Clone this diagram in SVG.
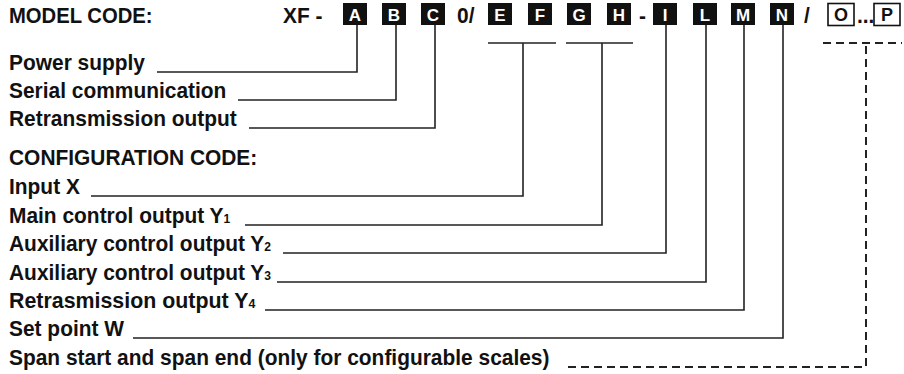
<svg xmlns="http://www.w3.org/2000/svg" width="904" height="374" viewBox="0 0 904 374">
<style>
text{font-family:"Liberation Sans",Arial,sans-serif;font-weight:bold;fill:#111}
.lbl{font-size:22.5px}
.sub{font-size:13px}
.bx{fill:#111}
.ob{fill:#fff;stroke:#111;stroke-width:1.6}
.bt{font-size:17px;fill:#fff;text-anchor:middle}
.ot{font-size:18px;fill:#111;text-anchor:middle}
.ln{fill:none;stroke:#222;stroke-width:1.6}
.dl{fill:none;stroke:#222;stroke-width:2;stroke-dasharray:8 5}
</style>
<rect width="904" height="374" fill="#fff"/>
<g id="header">
<text class="lbl" transform="translate(9,23) scale(0.9,1)">MODEL CODE:</text>
<text class="lbl" transform="translate(283,23) scale(0.93,1)">XF -</text>
<text class="lbl" transform="translate(457,23) scale(0.93,1)">0/</text>
<text class="lbl" transform="translate(639,23) scale(0.93,1)">-</text>
<text class="lbl" transform="translate(804,23) scale(0.93,1)">/</text>
<text class="lbl" transform="translate(857,23) scale(0.93,1)">...</text>
</g>
<g id="code-boxes">
<g id="box-A"><rect class="bx" x="343" y="3" width="24" height="22"/><text class="bt" x="355" y="20.5">A</text></g>
<g id="box-B"><rect class="bx" x="382" y="3" width="24" height="22"/><text class="bt" x="394" y="20.5">B</text></g>
<g id="box-C"><rect class="bx" x="421" y="3" width="24" height="22"/><text class="bt" x="433" y="20.5">C</text></g>
<g id="box-E"><rect class="bx" x="488" y="3" width="24" height="22"/><text class="bt" x="500" y="20.5">E</text></g>
<g id="box-F"><rect class="bx" x="528" y="3" width="24" height="22"/><text class="bt" x="540" y="20.5">F</text></g>
<g id="box-G"><rect class="bx" x="567" y="3" width="24" height="22"/><text class="bt" x="579" y="20.5">G</text></g>
<g id="box-H"><rect class="bx" x="607" y="3" width="24" height="22"/><text class="bt" x="619" y="20.5">H</text></g>
<g id="box-I"><rect class="bx" x="653" y="3" width="24" height="22"/><text class="bt" x="665" y="20.5">I</text></g>
<g id="box-L"><rect class="bx" x="693" y="3" width="24" height="22"/><text class="bt" x="705" y="20.5">L</text></g>
<g id="box-M"><rect class="bx" x="731" y="3" width="24" height="22"/><text class="bt" x="743" y="20.5">M</text></g>
<g id="box-N"><rect class="bx" x="770" y="3" width="24" height="22"/><text class="bt" x="782" y="20.5">N</text></g>
<g id="box-O"><rect class="ob" x="828" y="3.5" width="26" height="22"/><text class="ot" x="841" y="21">O</text></g>
<g id="box-P"><rect class="ob" x="874" y="3.5" width="26" height="22"/><text class="ot" x="887" y="21">P</text></g>
</g>
<g id="labels">
<text class="lbl" transform="translate(9,70) scale(0.93,1)">Power supply</text>
<text class="lbl" transform="translate(9,98) scale(0.93,1)">Serial communication</text>
<text class="lbl" transform="translate(9,126) scale(0.93,1)">Retransmission output</text>
<text class="lbl" transform="translate(9,165) scale(0.93,1)">CONFIGURATION CODE:</text>
<text class="lbl" transform="translate(9,194) scale(0.93,1)">Input X</text>
<text class="lbl" transform="translate(9,223) scale(0.93,1)">Main control output Y<tspan class="sub">1</tspan></text>
<text class="lbl" transform="translate(9,251) scale(0.93,1)">Auxiliary control output Y<tspan class="sub">2</tspan></text>
<text class="lbl" transform="translate(9,280) scale(0.93,1)">Auxiliary control output Y<tspan class="sub">3</tspan></text>
<text class="lbl" transform="translate(9,308) scale(0.95,1)">Retrasmission output Y<tspan class="sub">4</tspan></text>
<text class="lbl" transform="translate(9,336) scale(0.93,1)">Set point W</text>
<text class="lbl" transform="translate(9,365) scale(0.93,1)">Span start and span end (only for configurable scales)</text>
</g>
<g id="connectors">
<polyline class="ln" points="157,72 357,72 357,25"/>
<polyline class="ln" points="238,100 396,100 396,25"/>
<polyline class="ln" points="249,128 435,128 435,25"/>
<polyline class="ln" points="91,196 523,196 523,43"/>
<line class="ln" x1="488" y1="43" x2="556" y2="43"/>
<polyline class="ln" points="245,225 602,225 602,43"/>
<line class="ln" x1="566" y1="43" x2="633" y2="43"/>
<polyline class="ln" points="283,253 666,253 666,25"/>
<polyline class="ln" points="277,282 706,282 706,25"/>
<polyline class="ln" points="265,310 744,310 744,25"/>
<polyline class="ln" points="133,338 783,338 783,25"/>
<line class="dl" x1="823" y1="43" x2="902" y2="43"/>
<polyline class="dl" points="568,367 866,367 866,43"/>
</g>
</svg>
